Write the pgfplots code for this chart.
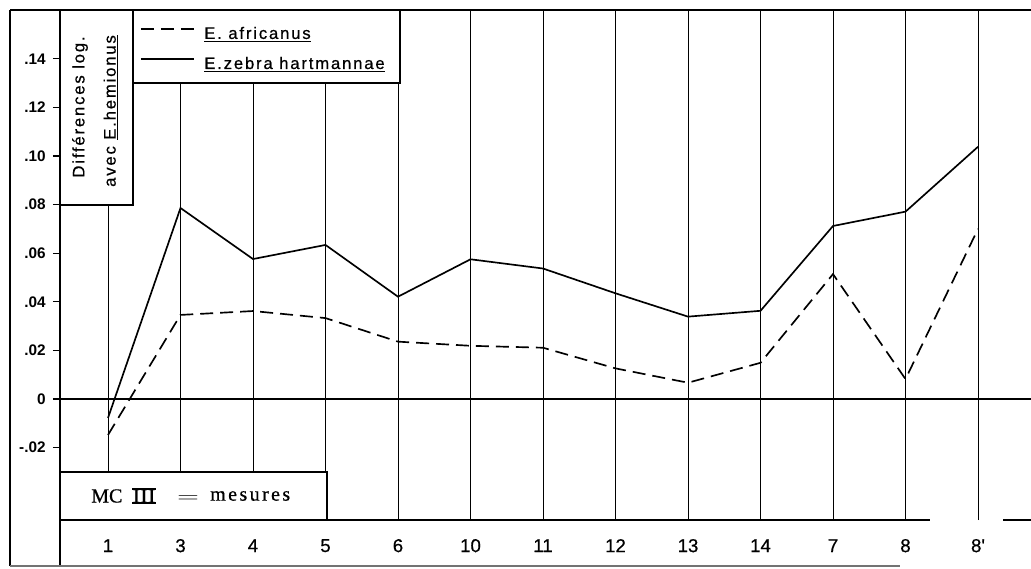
\documentclass[border=0pt]{standalone}
\usepackage{pgfplots}
\usepackage{pgfplotstable}
\usepackage{graphicx}
\pgfplotsset{compat=1.18}
\usepackage{fontspec}
\setmainfont{Liberation Sans}
\newfontfamily\lsp{Liberation Sans}[LetterSpace=11, FakeBold=0.6]
\newfontfamily\lab{Liberation Sans}[FakeBold=0.5]
\newfontfamily\mcf{Liberation Serif}[LetterSpace=12, FakeBold=0.6]
\newfontfamily\mcr{Liberation Serif}[FakeBold=0.6]

\pgfplotstableread{
x zebra afr
0  -0.0078 -0.0148
1   0.0786  0.0346
2   0.0576  0.0362
3   0.0634  0.0333
4   0.0421  0.0236
5   0.0575  0.0219
6   0.0537  0.0211
7   0.0435  0.0126
8   0.0339  0.0067
9   0.0363  0.0149
10  0.0712  0.0514
11  0.0771  0.0082
12  0.1038  0.0700
}\data

\begin{document}
\begin{tikzpicture}
\begin{axis}[
  at={(45pt,-7.5pt)}, anchor=north west,
  scale only axis, width=728.25pt, height=382.5pt,
  xmin=-0.66207, xmax=12.73103, ymin=-0.049794, ymax=0.16008,
  axis x line*=bottom, axis y line*=left, axis line style={draw=none},
  xtick={0,...,12},
  xticklabels={1,3,4,5,6,10,11,12,13,14,7,8,8'},
  major x tick style={draw=none},
  xticklabel style={anchor=center, yshift=-14pt, font=\lab\fontsize{14}{16}\selectfont},
  ytick={-0.02,0,0.02,0.04,0.06,0.08,0.10,0.12,0.14},
  yticklabels={-.02,0,.02,.04,.06,.08,.10,.12,.14},
  yticklabel style={font=\fontsize{11.5}{13}\selectfont\bfseries, xshift=-2pt},
  tick align=outside, major tick length=5.25pt,
  major y tick style={line width=1pt, black},
  xmajorgrids, grid style={line width=0.7pt, black},
  clip=false,
  legend style={at={(axis description cs:0.078,0.978)}, anchor=north west,
    draw=none, fill=none, font=\lsp\fontsize{12.5}{14}\selectfont,
    row sep=8pt, column sep=5pt},
  legend cell align=left,
  legend image code/.code={\draw[#1] (0pt,3.5pt) -- (40pt,3.5pt);},
]
\draw[line width=1pt, fill=white] (axis description cs:0,1) rectangle (axis description cs:0.07518,0.61765);
\draw[line width=1pt, fill=white] (axis description cs:0.07518,1) rectangle (axis description cs:0.35015,0.85686);
\draw[line width=1pt, fill=white] (axis description cs:0,0.09412) rectangle (axis description cs:0.27497,0);
\draw[line width=1.4pt] (axis cs:-0.66207,0) -- (axis cs:12.73103,0);
\addplot[black, line width=1.25pt, dash pattern=on 9.75pt off 5.25pt] table[x=x, y=afr] {\data};
\addlegendentry{\underline{E. africanus}}
\addplot[black, line width=1.25pt] table[x=x, y=zebra] {\data};
\addlegendentry{\underline{E.zebra hartmannae}}
\end{axis}
\begin{scope}[x=0.75pt, y=-0.75pt]
\draw[line width=1.4pt] (10,10) -- (1031,10);
\draw[line width=1.4pt] (10,9.5) -- (10,566);
\draw[line width=1.1pt] (60,10) -- (60,566);
\draw[line width=0.8pt, black!55] (10,566) -- (900,566);
\draw[line width=1pt] (60,520) -- (930,520);
\draw[line width=1pt] (1003,520) -- (1031,520);
\node[rotate=90, font=\lsp\fontsize{12.5}{14}\selectfont] at (80,107) {Différences log.};
\node[rotate=90, font=\lsp\fontsize{12.5}{14}\selectfont] at (111,111) {avec \underline{E.hemionus}};
\node[font=\mcr\fontsize{15}{17}\selectfont, anchor=west, inner sep=0pt] at (91,496) {MC};
\node[font=\mcr\fontsize{15}{17}\selectfont, inner sep=0pt] (r) at (144,496) {\scalebox{1.15}[1]{III}};
\draw[line width=1.1pt] (r.north west) -- (r.north east) (r.south west) -- (r.south east);
\node[inner sep=0pt] at (188,499) {\scalebox{1.5}[1]{\fontsize{15}{17}\selectfont$=$}};
\node[font=\mcf\fontsize{15}{17}\selectfont, anchor=west, inner sep=0pt] at (210,496) {mesures};
\pgfresetboundingbox
\path[use as bounding box] (0,0) rectangle (1031,568);
\end{scope}
\end{tikzpicture}
\end{document}
